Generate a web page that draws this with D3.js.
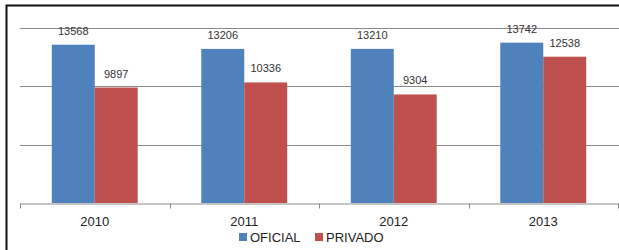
<!DOCTYPE html>
<html>
<head>
<meta charset="utf-8">
<script src="https://cdn.jsdelivr.net/npm/d3@7"></script>
<style>
  body { margin: 0; background: #fff; }
  svg { display: block; font-family: "Liberation Sans", Arial, sans-serif; }
</style>
</head>
<body>
<div id="chart"></div>
<script>
var years = ['2010', '2011', '2012', '2013']
var series = ['OFICIAL', 'PRIVADO']
var oficial = [13568, 13206, 13210, 13742]
var privado = [9897, 10336, 9304, 12538]
var gridVals = [5000, 10000, 15000]
var colors = { 'OFICIAL': '#4f81bd', 'PRIVADO': '#c0504d' }

var width = 619, height = 250
var svg = d3.select('#chart').append('svg')
  .attr('width', width)
  .attr('height', height)

// marco
svg.append('rect').attr('x', 0).attr('y', 0).attr('width', width).attr('height', height).attr('fill', '#fff')
svg.append('path')
  .attr('d', 'M6.5,250 L6.5,5.5 L619,5.5')
  .attr('fill', 'none')
  .attr('stroke', '#111')
  .attr('stroke-width', 2)

var y = d3.scaleLinear().domain([0, 15000]).range([203, 28])
var x0 = d3.scaleBand().domain(years).range([20, 618]).paddingInner(0).paddingOuter(0)
var x1 = d3.scaleBand().domain(series).range([0, x0.bandwidth()]).paddingInner(0).paddingOuter(0.74)

// lineas de division
svg.selectAll('.grid')
  .data(gridVals)
  .enter()
  .append('line')
  .attr('x1', 20)
  .attr('x2', width)
  .attr('y1', function (d) { return Math.round(y(d)) + 0.5 })
  .attr('y2', function (d) { return Math.round(y(d)) + 0.5 })
  .attr('stroke', '#8a8a8a')
  .attr('stroke-width', 1)

var rows = years.map(function (yr, i) {
  return { year: yr, vals: [{ s: 'OFICIAL', v: oficial[i] }, { s: 'PRIVADO', v: privado[i] }] }
})

var g = svg.selectAll('.grp')
  .data(rows)
  .enter()
  .append('g')
  .attr('transform', function (d) { return 'translate(' + x0(d.year) + ',0)' })

g.selectAll('rect')
  .data(function (d) { return d.vals })
  .enter()
  .append('rect')
  .attr('x', function (d) { return x1(d.s) })
  .attr('y', function (d) { return y(d.v) })
  .attr('width', x1.bandwidth())
  .attr('height', function (d) { return y(0) - y(d.v) })
  .attr('fill', function (d) { return colors[d.s] })

g.selectAll('text')
  .data(function (d) { return d.vals })
  .enter()
  .append('text')
  .attr('x', function (d) { return x1(d.s) + x1.bandwidth() / 2 })
  .attr('y', function (d) { return y(d.v) - 10 })
  .attr('text-anchor', 'middle')
  .attr('font-size', '11px')
  .attr('fill', '#333')
  .text(function (d) { return d.v })

// eje x
var xAxis = d3.axisBottom(x0).tickSize(0).tickPadding(13)
var ax = svg.append('g').attr('transform', 'translate(0,203.5)').call(xAxis)
ax.select('.domain').attr('stroke', '#8a8a8a')
ax.selectAll('text').attr('font-size', '13px').attr('fill', '#222').attr('font-family', '"Liberation Sans", Arial, sans-serif')
var edges = years.map(function (d) { return x0(d) }).concat([x0.range()[1]])
ax.selectAll('.edge')
  .data(edges)
  .enter()
  .append('line')
  .attr('x1', function (d) { return Math.round(d) + 0.5 })
  .attr('x2', function (d) { return Math.round(d) + 0.5 })
  .attr('y1', 0)
  .attr('y2', 5)
  .attr('stroke', '#8a8a8a')

// leyenda
var legX = [239, 315]
var leg = svg.selectAll('.leg')
  .data(series)
  .enter()
  .append('g')
  .attr('transform', function (d, i) { return 'translate(' + legX[i] + ',233)' })
leg.append('rect')
  .attr('width', 8)
  .attr('height', 8)
  .attr('fill', function (d) { return colors[d] })
leg.append('text')
  .attr('x', 11)
  .attr('y', 9)
  .attr('font-size', '13px')
  .attr('fill', '#222')
  .text(function (d) { return d })
</script>
</body>
</html>
